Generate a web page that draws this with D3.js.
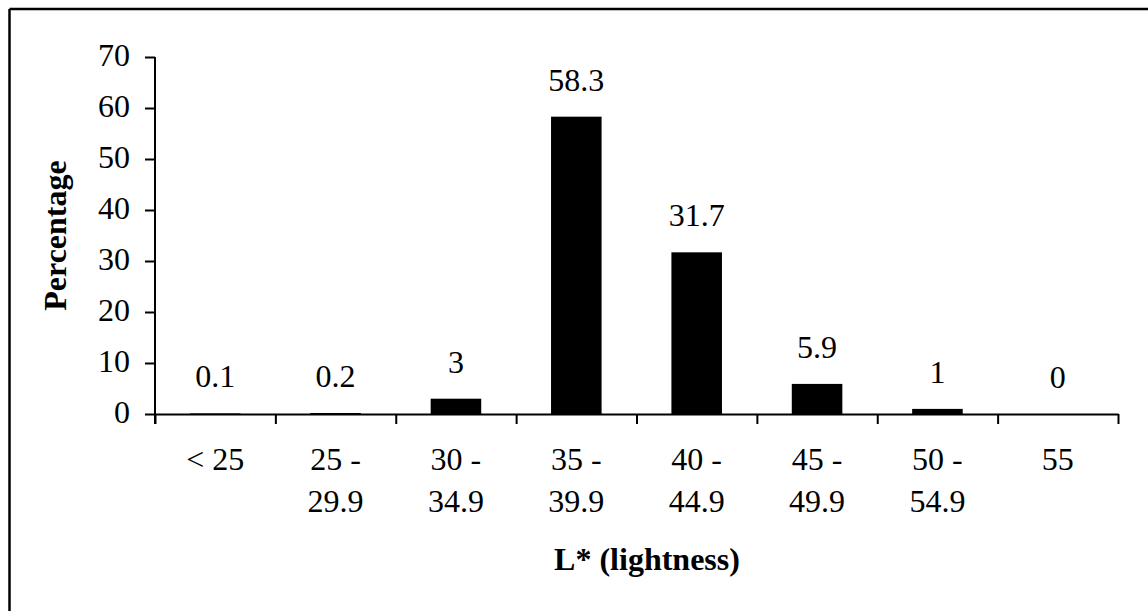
<!DOCTYPE html>
<html>
<head>
<meta charset="utf-8">
<script src="https://cdn.jsdelivr.net/npm/d3@7"></script>
<style>
  html, body { margin: 0; padding: 0; background: #fff; }
  svg { display: block; }
  text { font-family: "Liberation Serif", "Times New Roman", serif; fill: #000; }
</style>
</head>
<body>
<script>
// ---- data ----
const categories = ["< 25", "25 - 29.9", "30 - 34.9", "35 - 39.9", "40 - 44.9", "45 - 49.9", "50 - 54.9", "55"];
const labelLine1 = ["< 25", "25 -", "30 -", "35 -", "40 -", "45 -", "50 -", "55"];
const labelLine2 = ["", "29.9", "34.9", "39.9", "44.9", "49.9", "54.9", ""];
const values = [0.1, 0.2, 3, 58.3, 31.7, 5.9, 1, 0];
const valueLabels = ["0.1", "0.2", "3", "58.3", "31.7", "5.9", "1", "0"];
const yTicks = [0, 10, 20, 30, 40, 50, 60, 70];
const xTitle = "L* (lightness)";
const yTitle = "Percentage";

// ---- layout ----
const W = 1148, H = 611;
const mLeft = 155, mRight = 1118, mTop = 57, mBottom = 414;
const fs = 32;

const svg = d3.select("body").append("svg").attr("width", W).attr("height", H);

// outer frame (only top & left visible in the reference)
svg.append("line").attr("x1", 9.5).attr("x2", W).attr("y1", 9).attr("y2", 9)
  .attr("stroke", "#000").attr("stroke-width", 2.5);
svg.append("line").attr("x1", 9.5).attr("x2", 9.5).attr("y1", 9).attr("y2", H)
  .attr("stroke", "#000").attr("stroke-width", 2.5);

const x = d3.scaleBand().domain(categories).range([mLeft, mRight]).padding(0);
const y = d3.scaleLinear().domain([0, 70]).range([mBottom, mTop]);
const xIdx = d3.scaleLinear().domain([0, categories.length]).range([mLeft, mRight]);
const barFrac = 0.42;

// bars
svg.append("g").selectAll("rect").data(values).join("rect")
  .attr("x", (d, i) => x(categories[i]) + x.bandwidth() * (1 - barFrac) / 2)
  .attr("width", x.bandwidth() * barFrac)
  .attr("y", d => y(d))
  .attr("height", d => y(0) - y(d))
  .attr("fill", "#000");

// value labels
svg.append("g").selectAll("text").data(values).join("text")
  .attr("x", (d, i) => x(categories[i]) + x.bandwidth() / 2)
  .attr("y", d => y(d) - 26)
  .attr("text-anchor", "middle")
  .attr("font-size", fs)
  .text((d, i) => valueLabels[i]);

// y axis
const yAxis = svg.append("g").attr("transform", `translate(${mLeft},0)`)
  .call(d3.axisLeft(y).tickValues(yTicks).tickSize(10).tickSizeOuter(0).tickPadding(15).tickFormat(d3.format("d")));
yAxis.select(".domain").attr("stroke-width", 2).attr("d", `M0,${mTop}V${mBottom + 10}`);
yAxis.selectAll(".tick line").attr("stroke-width", 2);
yAxis.selectAll(".tick text").attr("font-size", fs).attr("font-family", "Liberation Serif").attr("dy", "0.27em");

// x axis (ticks at category boundaries)
const xAxis = svg.append("g").attr("transform", `translate(0,${mBottom})`)
  .call(d3.axisBottom(xIdx).tickValues(d3.range(categories.length + 1)).tickSize(10).tickSizeOuter(0).tickFormat(""));
xAxis.select(".domain").attr("stroke-width", 2);
xAxis.selectAll(".tick line").attr("stroke-width", 2);

// x category labels (two lines)
const lab = svg.append("g").selectAll("text").data(categories).join("text")
  .attr("text-anchor", "middle")
  .attr("font-size", fs);
lab.append("tspan")
  .attr("x", d => x(d) + x.bandwidth() / 2)
  .attr("y", 470)
  .text((d, i) => labelLine1[i]);
lab.append("tspan")
  .attr("x", d => x(d) + x.bandwidth() / 2)
  .attr("y", 512)
  .text((d, i) => labelLine2[i]);

// axis titles
svg.append("text")
  .attr("x", 647).attr("y", 570)
  .attr("text-anchor", "middle")
  .attr("font-size", fs).attr("font-weight", "bold")
  .text(xTitle);

svg.append("text")
  .attr("transform", `translate(66,${(mTop + mBottom) / 2}) rotate(-90)`)
  .attr("text-anchor", "middle")
  .attr("font-size", fs).attr("font-weight", "bold")
  .text(yTitle);
</script>
</body>
</html>
